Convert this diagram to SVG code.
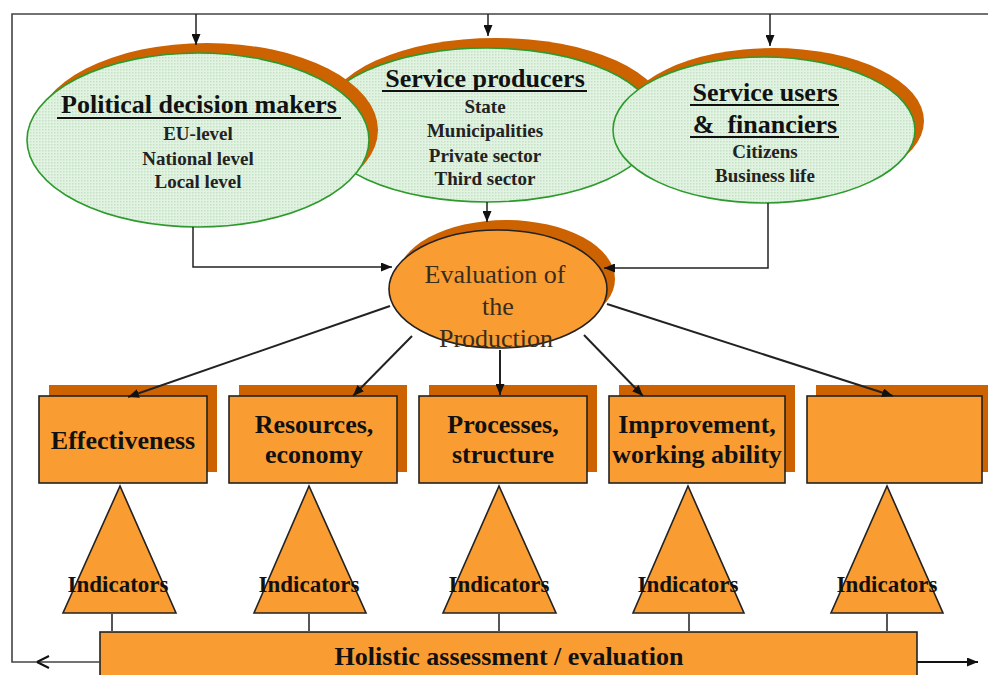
<svg xmlns="http://www.w3.org/2000/svg" width="988" height="675" viewBox="0 0 988 675">
<defs>
<pattern id="dots" width="3" height="3" patternUnits="userSpaceOnUse">
<rect width="3" height="3" fill="#e3f3e3"/>
<rect width="1.5" height="1.5" fill="#c2e2c2"/>
</pattern>
<marker id="ah" markerWidth="11" markerHeight="9" refX="11" refY="4.5" orient="auto" markerUnits="userSpaceOnUse">
<path d="M0,0 L11,4.5 L0,9 z" fill="#111"/>
</marker>
</defs>
<style>
.frame{fill:none;stroke:#444;stroke-width:1.6}
.conn{fill:none;stroke:#222;stroke-width:1.5}
.ray{fill:none;stroke:#222;stroke-width:2}
.tick{fill:none;stroke:#555;stroke-width:2}
.shadow{fill:#cc6200}
.green{fill:url(#dots);stroke:#2e9a2e;stroke-width:1.6}
.org{fill:#f99c31;stroke:#222;stroke-width:1.6}
.title{font-family:"Liberation Serif","Times New Roman",serif;font-weight:bold;font-size:26px;fill:#111;text-anchor:middle}
.sub{font-family:"Liberation Serif","Times New Roman",serif;font-weight:bold;font-size:19px;fill:#222;text-anchor:middle}
.box{font-family:"Liberation Serif","Times New Roman",serif;font-weight:bold;font-size:26px;fill:#111;text-anchor:middle}
.ind{font-family:"Liberation Serif","Times New Roman",serif;font-weight:bold;font-size:23px;fill:#111;text-anchor:middle}
.eval{font-family:"Liberation Serif","Times New Roman",serif;font-size:26px;fill:#3a2c1c;text-anchor:middle}
.ul{stroke:#111;stroke-width:2}
</style>

<g id="service-producers">
<ellipse class="shadow" cx="496" cy="115" rx="170" ry="77"/>
<ellipse class="green" cx="487" cy="125" rx="170" ry="77"/>
<text class="title" x="485" y="87">Service producers</text>
<line class="ul" x1="382" y1="91" x2="587" y2="91"/>
<text class="sub" x="485" y="113">State</text>
<text class="sub" x="485" y="137">Municipalities</text>
<text class="sub" x="485" y="162">Private sector</text>
<text class="sub" x="485" y="185">Third sector</text>
</g>

<g id="political-decision-makers">
<ellipse class="shadow" cx="207" cy="130" rx="171" ry="87"/>
<ellipse class="green" cx="198" cy="140" rx="171" ry="87"/>
<text class="title" x="199" y="113">Political decision makers</text>
<line class="ul" x1="57" y1="118" x2="341" y2="118"/>
<text class="sub" x="198" y="140">EU-level</text>
<text class="sub" x="198" y="165">National level</text>
<text class="sub" x="198" y="188">Local level</text>
</g>

<g id="service-users">
<ellipse class="shadow" cx="773" cy="121" rx="151" ry="73"/>
<ellipse class="green" cx="764" cy="130" rx="151" ry="73"/>
<text class="title" x="765" y="101">Service users</text>
<line class="ul" x1="690" y1="105" x2="839" y2="105"/>
<text class="title" x="765" y="133">&amp;&#160; financiers</text>
<line class="ul" x1="690" y1="137" x2="839" y2="137"/>
<text class="sub" x="765" y="158">Citizens</text>
<text class="sub" x="765" y="182">Business life</text>
</g>

<g id="evaluation">
<ellipse class="shadow" cx="506" cy="279" rx="109" ry="59"/>
<ellipse class="org" cx="498" cy="289" rx="109" ry="59"/>
<text class="eval" x="495" y="283">Evaluation of</text>
<text class="eval" x="498" y="315">the</text>
<text class="eval" x="496" y="347">Production</text>
</g>

<g id="effectiveness">
<rect class="shadow" x="49" y="385" width="168" height="87"/>
<rect class="org" x="39" y="396" width="168" height="87"/>
<text class="box" x="123" y="449">Effectiveness</text>
</g>
<g id="resources">
<rect class="shadow" x="239" y="385" width="168" height="87"/>
<rect class="org" x="229" y="396" width="168" height="87"/>
<text class="box" x="314" y="433">Resources,</text>
<text class="box" x="314" y="463">economy</text>
</g>
<g id="processes">
<rect class="shadow" x="429" y="385" width="168" height="87"/>
<rect class="org" x="419" y="396" width="168" height="87"/>
<text class="box" x="503" y="433">Processes,</text>
<text class="box" x="503" y="463">structure</text>
</g>
<g id="improvement">
<rect class="shadow" x="619" y="385" width="176" height="87"/>
<rect class="org" x="609" y="396" width="176" height="87"/>
<text class="box" x="697" y="433">Improvement,</text>
<text class="box" x="697" y="463">working ability</text>
</g>
<g id="empty-box">
<rect class="shadow" x="816" y="385" width="175" height="87"/>
<rect class="org" x="807" y="396" width="175" height="87"/>
</g>

<g id="indicators-1">
<polygon class="org" points="120,486 63,613 176,613"/>
<text class="ind" x="118" y="592">Indicators</text>
</g>
<g id="indicators-2">
<polygon class="org" points="309,486 254,613 366,613"/>
<text class="ind" x="309" y="592">Indicators</text>
</g>
<g id="indicators-3">
<polygon class="org" points="499,486 443,613 556,613"/>
<text class="ind" x="499" y="592">Indicators</text>
</g>
<g id="indicators-4">
<polygon class="org" points="688,486 633,613 744,613"/>
<text class="ind" x="688" y="592">Indicators</text>
</g>
<g id="indicators-5">
<polygon class="org" points="887,486 831,613 943,613"/>
<text class="ind" x="887" y="592">Indicators</text>
</g>

<g id="holistic">
<rect class="org" x="100" y="632" width="817" height="60"/>
<text class="title" x="509" y="665">Holistic assessment / evaluation</text>
</g>

<g id="connectors">
<path class="frame" d="M100,662 L12,662 L12,14 L988,14"/>
<path d="M37,662 L49,656 M37,662 L49,668" stroke="#111" stroke-width="2" fill="none"/>
<line class="conn" x1="196" y1="14" x2="196" y2="45" marker-end="url(#ah)"/>
<line class="conn" x1="488" y1="14" x2="488" y2="36" marker-end="url(#ah)"/>
<line class="conn" x1="770" y1="14" x2="770" y2="46" marker-end="url(#ah)"/>
<path class="conn" d="M193,227 L193,267 L392,267" marker-end="url(#ah)"/>
<path class="conn" d="M768,203 L768,268 L604,268" marker-end="url(#ah)"/>
<line class="conn" x1="487" y1="202" x2="487" y2="222" marker-end="url(#ah)"/>
<line class="ray" x1="390" y1="306" x2="128" y2="397" marker-end="url(#ah)"/>
<line class="ray" x1="412" y1="336" x2="353" y2="396" marker-end="url(#ah)"/>
<line class="ray" x1="500" y1="350" x2="500" y2="395" marker-end="url(#ah)"/>
<line class="ray" x1="584" y1="335" x2="643" y2="396" marker-end="url(#ah)"/>
<line class="ray" x1="607" y1="304" x2="893" y2="396" marker-end="url(#ah)"/>
<line class="tick" x1="112" y1="613" x2="112" y2="632"/>
<line class="tick" x1="309" y1="613" x2="309" y2="632"/>
<line class="tick" x1="499" y1="613" x2="499" y2="632"/>
<line class="tick" x1="689" y1="613" x2="689" y2="632"/>
<line class="tick" x1="887" y1="613" x2="887" y2="632"/>
<line x1="917" y1="662" x2="978" y2="662" stroke="#111" stroke-width="2" marker-end="url(#ah)"/>
</g>
</svg>
